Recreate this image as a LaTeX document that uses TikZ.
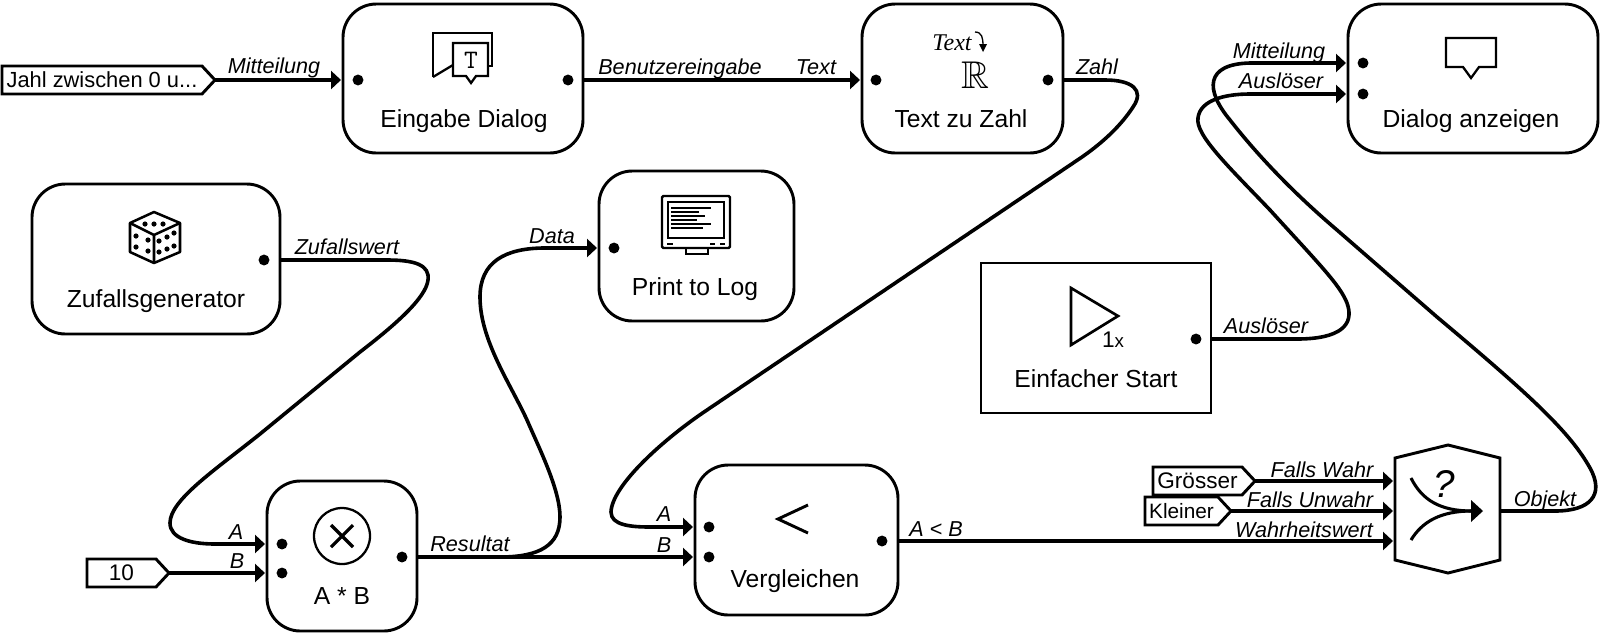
\documentclass[tikz,border=0pt]{standalone}
\usepackage{fontspec}
\usepackage{amssymb}
\setmainfont{Liberation Sans}
\newfontfamily\timesf{Liberation Serif}
\usetikzlibrary{arrows.meta,calc}
\tikzset{
  x=0.75pt,y=-0.75pt,
  modbox/.style={draw=black,line width=2.2pt,fill=white,rounded corners=25pt,outer sep=0pt,inner sep=0pt},
  plainbox/.style={draw=black,line width=2.2pt,fill=white,outer sep=0pt,inner sep=0pt},
  port/.style={circle,fill=black,draw=none,minimum size=8.2pt,inner sep=0pt,outer sep=0pt},
  conn/.style={line width=2.7pt,line join=round,-{Triangle[length=7.5pt,width=13.5pt]},shorten >=1.5pt},
  tagbody/.style={inner sep=0pt,outer sep=0pt,font=\fontsize{16.9pt}{18pt}\selectfont},
  tagline/.style={draw=black,line width=2.2pt,fill=white,line join=miter},
  wire/.style={font=\fontsize{16.2pt}{17pt}\selectfont\itshape,inner sep=0pt,outer sep=0pt,anchor=base},
  title/.style={font=\fontsize{18.5pt}{20pt}\selectfont,inner sep=0pt,outer sep=0pt,anchor=base},
  icon/.style={draw=black,line width=1.7pt,line join=miter},
  pip/.style={fill=black,draw=none},
}
\newcommand{\mkbox}[6]{\node[#2,minimum width={(#5-#3)*0.75pt},minimum height={(#6-#4)*0.75pt}] (#1) at ({(#3+#5)/2},{(#4+#6)/2}) {};}
\newcommand{\mktag}[8]{%
  % name, left, top, right(shoulder), bottom, tipx, tipy, text
  \node[tagbody,minimum width={(#4-#2)*0.75pt},minimum height={(#5-#3)*0.75pt}] (#1) at ({(#2+#4)/2},{(#3+#5)/2}) {#8};
  \coordinate (#1tip) at (#6,#7);
  \begin{pgfonlayer}{tagbg}
  \draw[tagline] (#1.north west) -- (#1.north east) -- (#1tip) -- (#1.south east) -- (#1.south west) -- cycle;
  \end{pgfonlayer}
}
\pgfdeclarelayer{tagbg}
\pgfsetlayers{tagbg,main}
\begin{document}
\begin{tikzpicture}
\useasboundingbox (0,0) rectangle (1600,633);

% modules
\mkbox{eing}{modbox}{343}{4}{583}{153}
\mkbox{tz}{modbox}{862}{4}{1063}{153}
\mkbox{dlg}{modbox}{1348}{4}{1598}{153}
\mkbox{zuf}{modbox}{32}{184}{280}{334}
\mkbox{log}{modbox}{599}{171}{794}{321}
\mkbox{start}{plainbox}{981}{263}{1211}{413}
\mkbox{mul}{modbox}{267}{481}{417}{631}
\mkbox{cmp}{modbox}{695}{465}{898}{615}

% hexagon
\node[inner sep=0pt,outer sep=0pt,minimum width=78.75pt,minimum height=76.5pt] (hex) at (1447.5,509) {};
\draw[line width=2.2pt,fill=white,line join=miter] (hex.west |- 0,458) -- (1448,445) -- (hex.east |- 0,458) -- (hex.east |- 0,560) -- (1448,573) -- (hex.west |- 0,560) -- cycle;

% ports
\node[port] (eingI) at (358,80) {};
\node[port] (eingO) at (568,80) {};
\node[port] (tzI) at (876,80) {};
\node[port] (tzO) at (1048,80) {};
\node[port] (dlgM) at (1363,63) {};
\node[port] (dlgA) at (1363,94) {};
\node[port] (zufO) at (264,260) {};
\node[port] (logI) at (614,248) {};
\node[port] (startO) at (1196,339) {};
\node[port] (mulA) at (282,544) {};
\node[port] (mulB) at (282,573) {};
\node[port] (mulO) at (402,557) {};
\node[port] (cmpA) at (709,527) {};
\node[port] (cmpB) at (709,557) {};
\node[port] (cmpO) at (882,541) {};
\coordinate (hexT) at (1395,481);
\coordinate (hexF) at (1395,511);
\coordinate (hexC) at (1395,541);
\coordinate (hexO) at (1500,511);

% connectors
\draw[conn] (eingO -| eing.east) -- (tzI -| tz.west);
\draw[conn] (tzO -| tz.east) -- (1105,80) .. controls (1132,80) and (1145,90) .. (1133,107) .. controls (1122,124) and (1105,141) .. (1082,157) -- (707,410) .. controls (665,438) and (612,485) .. (611,512) .. controls (611,525) and (630,527) .. (650,527) -- (cmpA -| cmp.west);
\draw[conn] (zufO -| zuf.east) -- (387,260) .. controls (415,260) and (430,265) .. (428,280) .. controls (426,298) and (395,325) .. (360,352) -- (260,434) .. controls (215,470) and (170,500) .. (170,523) .. controls (170,538) and (190,544) .. (215,544) -- (mulA -| mul.west);
\draw[conn] (mulO -| mul.east) -- (500,557) .. controls (540,557) and (560,545) .. (560,517) .. controls (560,490) and (540,450) .. (527,420) .. controls (510,383) and (480,340) .. (480,297) .. controls (480,262) and (505,248) .. (545,248) -- (logI -| log.west);
\draw[conn] (mulO -| mul.east) -- (cmpB -| cmp.west);
\draw[conn] (cmpO -| cmp.east) -- (hexC);
\draw[conn] (startO -| start.east) -- (1297,339) .. controls (1340,339) and (1355,325) .. (1347,303) .. controls (1340,285) and (1320,265) .. (1270,210) .. controls (1230,168) and (1195,135) .. (1198,118) .. controls (1200,100) and (1225,94) .. (1250,94) -- (dlgA -| dlg.west);
\draw[conn] (hexO) -- (1555,511) .. controls (1590,511) and (1605,495) .. (1590,468) .. controls (1570,432) and (1530,395) .. (1437,317) -- (1337,230) .. controls (1290,190) and (1255,152) .. (1230,120) .. controls (1205,90) and (1205,64) .. (1250,63) -- (dlgM -| dlg.west);

% tags
\mktag{jahl}{2}{66}{202}{94}{215}{80}{\fontsize{16.4pt}{18pt}\selectfont Jahl zwischen 0 u...}
\mktag{ten}{87}{559}{156}{587}{169}{573}{10}
\mktag{gr}{1153}{467}{1242}{495}{1255}{481}{Grösser}
\mktag{kl}{1145}{497}{1218}{525}{1231}{511}{\fontsize{15.6pt}{18pt}\selectfont Kleiner}
\draw[conn] (jahltip) -- (eingI -| eing.west);
\draw[conn] (tentip) -- (mulB -| mul.west);
\draw[conn] (grtip) -- (hexT);
\draw[conn] (kltip) -- (hexF);

% connector labels
\node[wire] (l1) at (274,73) {Mitteilung};
\node[wire] (l2) at (680,74) {Benutzereingabe};
\node[wire] (l3) at (816,74) {Text};
\node[wire] (l4) at (1097,74) {Zahl};
\node[wire] (l5) at (1279,58) {Mitteilung};
\node[wire] (l6) at (1281,88) {Auslöser};
\node[wire] (l7) at (347,254) {Zufallswert};
\node[wire] (l8) at (552,243) {Data};
\node[wire] (l9) at (236,539) {A};
\node[wire] (l10) at (237,568) {B};
\node[wire] (l11) at (470,551) {Resultat};
\node[wire] (l12) at (664,521) {A};
\node[wire] (l13) at (664,552) {B};
\node[wire] (l14) at (936,536) {A < B};
\node[wire] (l15) at (1266,333) {Auslöser};
\node[wire] (l16) at (1322,477) {Falls Wahr};
\node[wire] (l17) at (1310,507) {Falls Unwahr};
\node[wire] (l18) at (1304,537) {Wahrheitswert};
\node[wire] (l19) at (1545,506) {Objekt};

% module titles
\node[title] (t1) at (464,127) {Eingabe Dialog};
\node[title] (t2) at (961,127) {Text zu Zahl};
\node[title] (t3) at (1471,127) {Dialog anzeigen};
\node[title] (t4) at (156,307) {Zufallsgenerator};
\node[title] (t5) at (695,295) {Print to Log};
\node[title] (t6) at (1096,387) {Einfacher Start};
\node[title] (t7) at (342,604) {A * B};
\node[title] (t8) at (795,587) {Vergleichen};

% icon: input dialog
\draw[icon] (433,77) -- (433,33) -- (492,33) -- (492,66) -- (488,66);
\draw[icon] (433,77) -- (453,65);
\draw[icon,fill=white] (453,43) -- (488,43) -- (488,76) -- (476,76) -- (471,83) -- (466,76) -- (453,76) -- cycle;
\node[inner sep=0pt] (iT) at (471,60) {\ttfamily\fontsize{20pt}{20pt}\selectfont T};

% icon: text to number
\node[inner sep=0pt,anchor=base] (iText) at (952,50) {\timesf\itshape\fontsize{18pt}{18pt}\selectfont Text};
\draw[line width=1pt] (975,32) .. controls (982,32) and (983,38) .. (983,46);
\fill (979,44) -- (987,44) -- (983,52) -- cycle;
\node[inner sep=0pt,anchor=base] (iR) at (975,88) {\fontsize{29pt}{29pt}\selectfont$\mathbb{R}$};

% icon: dialog
\draw[icon] (1446,38) -- (1496,38) -- (1496,67) -- (1479,67) -- (1471,78) -- (1463,67) -- (1446,67) -- cycle;

% icon: dice
\draw[icon,line width=1.9pt,line join=round] (154,212) -- (180,223) -- (180,252) -- (154,263) -- (130,252) -- (130,223) -- cycle;
\draw[icon,line width=1.9pt,line join=round] (130,223) -- (154,235) -- (180,223) (154,235) -- (154,263);
\foreach \p in {(145,224),(154,224),(163,224),(136,236),(148,240),(136,247),(148,251),(159,241),(167,237),(174,233),(159,252),(167,249),(174,246)}
  \fill[pip] \p circle (2.6);

% icon: monitor
\draw[icon,rounded corners=1pt,line width=1.8pt] (662,196) rectangle (730,248);
\draw[line width=1.9pt] (668,202) rectangle (724,238);
\draw[icon] (686,248) -- (686,254) -- (708,254) -- (708,248);
\foreach \y/\e in {208/711,212/699,216/705,220/697,224/711,228/703}
  \draw[line width=1.3pt] (671,\y) -- (\e,\y);
\foreach \a/\b in {667/673,710/715,720/725}
  \draw[line width=1pt] (\a,244) -- (\b,244);

% icon: multiply
\draw[line width=1.7pt] (342,536) circle (28);
\draw[line width=2.4pt] (331,525) -- (353,547) (353,525) -- (331,547);

% icon: less than
\draw[line width=2.2pt,line join=miter] (808,505) -- (778,519) -- (808,533);

% icon: start
\draw[line width=2pt,line join=miter] (1071,288) -- (1118,316) -- (1071,345) -- cycle;
\node[inner sep=0pt,anchor=base] (i1x) at (1113,347) {\fontsize{17pt}{17pt}\selectfont 1\fontsize{14pt}{14pt}\selectfont x};

% icon: decision
\draw[line width=2.3pt] (1411,478) .. controls (1422,500) and (1440,511) .. (1472,511);
\draw[line width=2.3pt] (1411,540) .. controls (1422,522) and (1440,511) .. (1472,511);
\fill (1471,500) -- (1483,511) -- (1471,522) -- cycle;
\node[inner sep=0pt,anchor=base] (iq) at (1444,497) {\itshape\fontsize{29pt}{29pt}\selectfont ?};
\end{tikzpicture}
\end{document}
